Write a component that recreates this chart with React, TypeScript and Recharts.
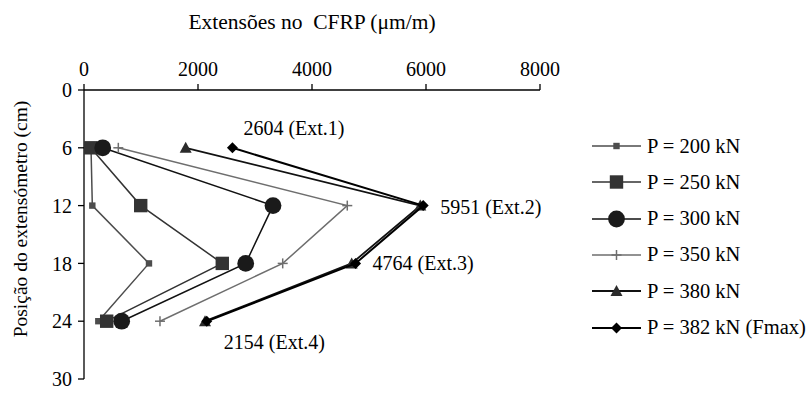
import { ScatterChart, Scatter, XAxis, YAxis } from "recharts";

// strain readings (µm/m) at each gauge position (cm)
const positions = [6, 12, 18, 24];
const p200 = [123, 146, 1140, 251];
const p250 = [118, 995, 2426, 398];
const p300 = [328, 3316, 2837, 661];
const p350 = [602, 4619, 3486, 1333];
const p380 = [1784, 5900, 4696, 2123];
const p382 = [2604, 5951, 4764, 2154];

const seriesNames = [
  "P = 200 kN",
  "P = 250 kN",
  "P = 300 kN",
  "P = 350 kN",
  "P = 380 kN",
  "P = 382 kN (Fmax)",
];
const gaugeNames = ["Ext.1", "Ext.2", "Ext.3", "Ext.4"];
const xTicks = [0, 2000, 4000, 6000, 8000];
const yTicks = [0, 6, 12, 18, 24, 30];

const FONT = "'Liberation Serif', 'Times New Roman', serif";

const toPoints = (vals: number[]) => positions.map((y, i) => ({ x: vals[i], y }));

type MarkerKind = "smallSquare" | "square" | "circle" | "plus" | "triangle" | "diamond";

function Marker({ kind, cx, cy }: { kind: MarkerKind; cx: number; cy: number }) {
  switch (kind) {
    case "smallSquare":
      return <rect x={cx - 3.2} y={cy - 3.2} width={6.4} height={6.4} fill="#4d4d4d" />;
    case "square":
      return <rect x={cx - 6.7} y={cy - 6.7} width={13.4} height={13.4} fill="#333" />;
    case "circle":
      return <circle cx={cx} cy={cy} r={8.4} fill="#1a1a1a" />;
    case "plus":
      return (
        <g stroke="#6e6e6e" strokeWidth={1.5}>
          <line x1={cx - 5} y1={cy} x2={cx + 5} y2={cy} />
          <line x1={cx} y1={cy - 5} x2={cx} y2={cy + 5} />
        </g>
      );
    case "triangle":
      return <polygon points={`${cx},${cy - 6} ${cx + 6},${cy + 5} ${cx - 6},${cy + 5}`} fill="#2b2b2b" />;
    case "diamond":
      return <polygon points={`${cx},${cy - 5.5} ${cx + 5.5},${cy} ${cx},${cy + 5.5} ${cx - 5.5},${cy}`} fill="#000" />;
  }
}

const series = [
  { name: seriesNames[0], vals: p200, kind: "smallSquare" as MarkerKind, stroke: "#4d4d4d", width: 1.5 },
  { name: seriesNames[1], vals: p250, kind: "square" as MarkerKind, stroke: "#333", width: 1.5 },
  { name: seriesNames[2], vals: p300, kind: "circle" as MarkerKind, stroke: "#111", width: 1.5 },
  { name: seriesNames[3], vals: p350, kind: "plus" as MarkerKind, stroke: "#6e6e6e", width: 1.5 },
  { name: seriesNames[4], vals: p380, kind: "triangle" as MarkerKind, stroke: "#111", width: 1.8 },
  { name: seriesNames[5], vals: p382, kind: "diamond" as MarkerKind, stroke: "#000", width: 2 },
];

// value labels beside the Fmax points
const labelOffsets = [
  { dx: 11, dy: -20 },
  { dx: 17, dy: 1 },
  { dx: 17, dy: 0 },
  { dx: 17, dy: 21 },
];

function FmaxPoint(props: any) {
  const { cx, cy, payload, index } = props;
  const off = labelOffsets[index] || { dx: 15, dy: 0 };
  return (
    <g>
      <Marker kind="diamond" cx={cx} cy={cy} />
      <text
        x={cx + off.dx}
        y={cy + off.dy}
        dominantBaseline="central"
        style={{ fontFamily: FONT, fontSize: 20 }}
        fill="#000"
      >
        {`${payload.x} (${gaugeNames[index]})`}
      </text>
    </g>
  );
}

function YTitle() {
  const cy = 219;
  return (
    <text
      x={20}
      y={cy}
      transform={`rotate(-90 20 ${cy})`}
      textAnchor="middle"
      dominantBaseline="central"
      style={{ fontFamily: FONT, fontSize: 19.5 }}
      fill="#000"
    >
      Posição do extensómetro (cm)
    </text>
  );
}

function LegendBox() {
  return (
    <div style={{ position: "absolute", left: 590, top: 128, fontFamily: FONT, fontSize: 20.5, color: "#000" }}>
      {series.map((s, i) => (
        <div
          key={s.name}
          style={{ position: "absolute", left: 0, top: i * 36.3, height: 36, display: "flex", alignItems: "center", whiteSpace: "nowrap" }}
        >
          <svg width={54} height={20} style={{ display: "block" }}>
            <line x1={2} y1={10} x2={51} y2={10} stroke={s.stroke} strokeWidth={s.width} />
            <Marker kind={s.kind} cx={26.5} cy={10} />
          </svg>
          <span style={{ marginLeft: 3 }}>{s.name}</span>
        </div>
      ))}
    </div>
  );
}

export default function App() {
  const tickStyle = { fontFamily: FONT, fontSize: 20, fill: "#000" };
  return (
    <div style={{ position: "absolute", left: 0, top: 0, width: 811, height: 394, background: "#fff", fontFamily: FONT }}>
      <ScatterChart width={811} height={394} margin={{ top: 40, right: 271, bottom: 15, left: 0 }}>
        <XAxis
          type="number"
          dataKey="x"
          orientation="top"
          domain={[0, 8000]}
          ticks={xTicks}
          height={50}
          stroke="#000"
          strokeWidth={1.3}
          tickSize={6}
          tickMargin={8}
          tick={tickStyle}
          label={{
            value: "Extensões no\u00a0 CFRP (μm/m)",
            position: "top",
            offset: 11,
            style: { fontFamily: FONT, fontSize: 21.5, fill: "#000" },
          }}
        />
        <YAxis
          type="number"
          dataKey="y"
          reversed
          domain={[0, 30]}
          ticks={yTicks}
          width={84}
          stroke="#000"
          strokeWidth={1.3}
          tickSize={6}
          tickMargin={6}
          tick={tickStyle}
          label={<YTitle />}
        />
        {series.map((s) => (
          <Scatter
            key={s.name}
            name={s.name}
            data={toPoints(s.vals)}
            line={{ stroke: s.stroke, strokeWidth: s.width }}
            lineType="joint"
            isAnimationActive={false}
            shape={
              s.kind === "diamond"
                ? (p: any) => <FmaxPoint {...p} />
                : (p: any) => <Marker kind={s.kind} cx={p.cx} cy={p.cy} />
            }
          />
        ))}
      </ScatterChart>
      <LegendBox />
    </div>
  );
}
